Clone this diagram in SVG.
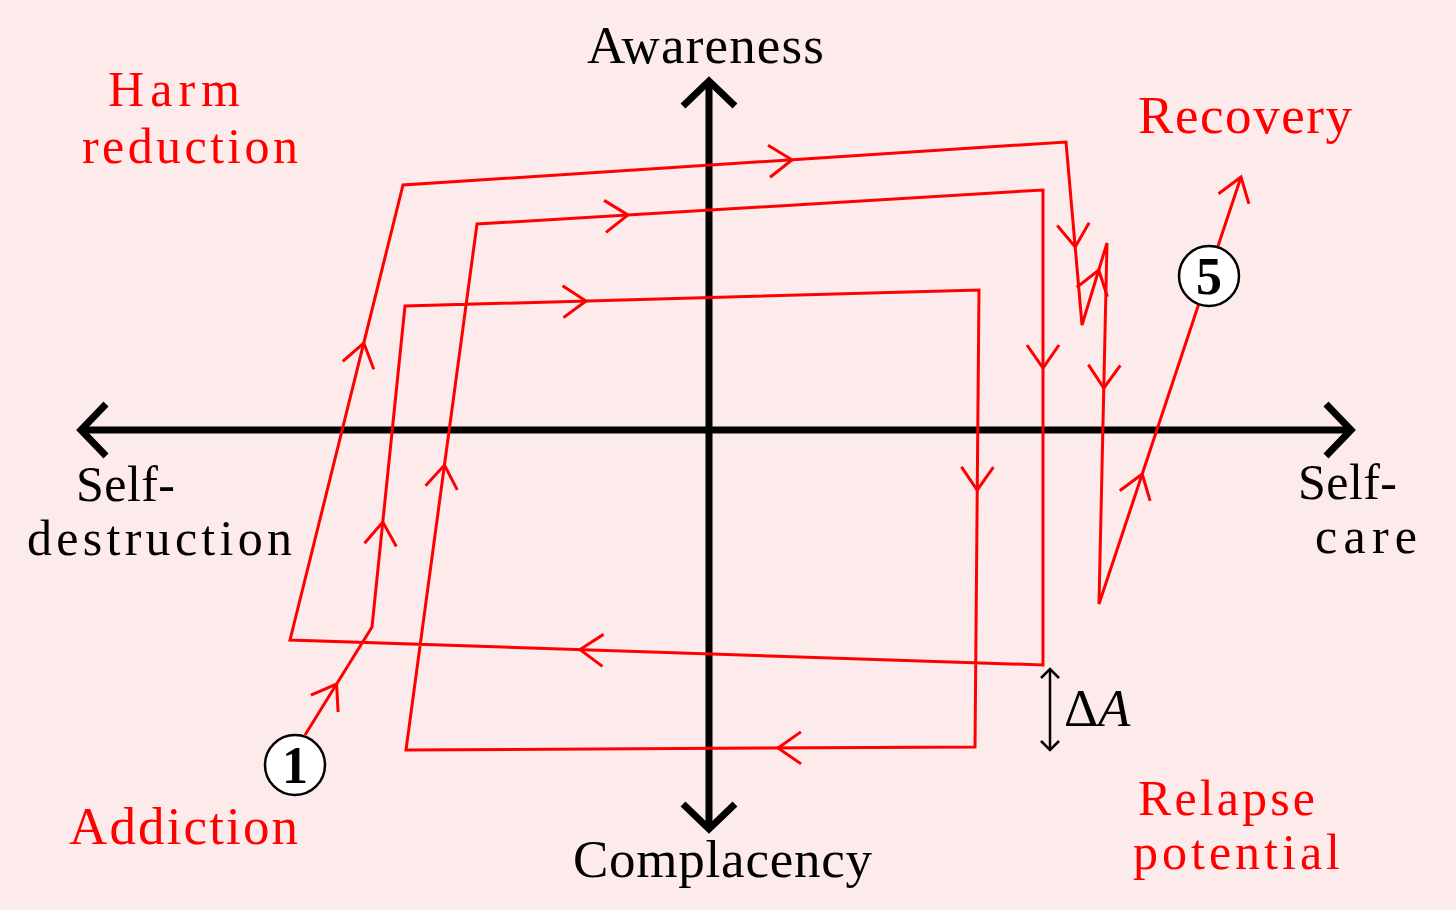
<svg xmlns="http://www.w3.org/2000/svg" xmlns:xlink="http://www.w3.org/1999/xlink" width="1456" height="910" viewBox="0 0 1456 910">
<style>
  .axis{stroke:#000;stroke-width:7;fill:none;stroke-linecap:butt;stroke-linejoin:miter}
  .cyc{stroke:#ff0000;stroke-width:3;fill:none;stroke-linejoin:miter}
  .lbl{font-family:"Liberation Serif","Times New Roman",serif;font-size:53px;fill:#000}
  .sm{font-size:50px}
  .red{fill:#ff0000}
  .num{font-family:"Liberation Serif","Times New Roman",serif;font-size:52px;font-weight:bold;fill:#000;text-anchor:middle}
  .circ{fill:#fff;stroke:#000;stroke-width:2.5}
</style>
<defs>
  <path id="ah" d="M-23,-16 L0,0 L-23,16" stroke="#ff0000" stroke-width="3" fill="none"/>
</defs>
<rect x="0" y="0" width="1456" height="910" fill="#fdebeb"/>

<g id="axes">
  <line class="axis" x1="84" y1="430" x2="1348" y2="430"/>
  <path class="axis" d="M106,404 L81,430 L106,456"/>
  <path class="axis" d="M1326,404 L1351,430 L1326,456"/>
  <line class="axis" x1="709" y1="84" x2="709" y2="826"/>
  <path class="axis" d="M683,106 L709,81 L735,106"/>
  <path class="axis" d="M683,804 L709,829 L735,804"/>
</g>

<g id="connectors">
  <polyline class="cyc" points="305,735 372,627 405,306 979,290 975,747 406,750 477,224 1043,190 1043,665 290,640 403,185 1066,142 1082,325 1107,243 1099,604 1241,177"/>
  <use xlink:href="#ah" transform="translate(336.6,684) rotate(-58.2)"/>
  <use xlink:href="#ah" transform="translate(382.8,522) rotate(-84.1)"/>
  <use xlink:href="#ah" transform="translate(586,301) rotate(-1.6)"/>
  <use xlink:href="#ah" transform="translate(977.2,490) rotate(90.5)"/>
  <use xlink:href="#ah" transform="translate(778,748) rotate(179.7)"/>
  <use xlink:href="#ah" transform="translate(444.5,465) rotate(-82.3)"/>
  <use xlink:href="#ah" transform="translate(628,215) rotate(-3.4)"/>
  <use xlink:href="#ah" transform="translate(1043,368) rotate(90)"/>
  <use xlink:href="#ah" transform="translate(580,649.6) rotate(181.9)"/>
  <use xlink:href="#ah" transform="translate(363.8,343) rotate(-76.05)"/>
  <use xlink:href="#ah" transform="translate(792,159.8) rotate(-3.7)"/>
  <use xlink:href="#ah" transform="translate(1075.2,247) rotate(85)"/>
  <use xlink:href="#ah" transform="translate(1098.8,270) rotate(-73)"/>
  <use xlink:href="#ah" transform="translate(1103.8,388) rotate(91.3)"/>
  <use xlink:href="#ah" transform="translate(1142.2,474) rotate(-71.6)"/>
  <use xlink:href="#ah" transform="translate(1241,177) rotate(-71.6)"/>
  <g id="deltaA-arrow" stroke="#000" stroke-width="2.5" fill="none">
    <line x1="1050" y1="669" x2="1050" y2="750"/>
    <path d="M1041,678 L1050,669 L1059,678"/>
    <path d="M1041,741 L1050,750 L1059,741"/>
  </g>
</g>

<g id="label-awareness"><text class="lbl" x="587" y="63" textLength="237">Awareness</text></g>
<g id="label-complacency"><text class="lbl" x="573" y="877" textLength="299">Complacency</text></g>
<g id="label-selfdestruction">
  <text class="lbl sm" x="76" y="501" textLength="99">Self-</text>
  <text class="lbl sm" x="27" y="555" textLength="265">destruction</text>
</g>
<g id="label-selfcare">
  <text class="lbl sm" x="1298" y="499" textLength="99">Self-</text>
  <text class="lbl sm" x="1315" y="553" textLength="102">care</text>
</g>
<g id="label-harm">
  <text class="lbl sm red" x="108" y="106" textLength="132">Harm</text>
  <text class="lbl sm red" x="82" y="163" textLength="216">reduction</text>
</g>
<g id="label-recovery"><text class="lbl red" x="1138" y="133" textLength="214">Recovery</text></g>
<g id="label-addiction"><text class="lbl red" x="69" y="844" textLength="229">Addiction</text></g>
<g id="label-relapse">
  <text class="lbl sm red" x="1138" y="815" textLength="177">Relapse</text>
  <text class="lbl sm red" x="1133" y="869" textLength="207">potential</text>
</g>
<g id="label-deltaA"><text class="lbl" x="1064" y="726">Δ<tspan font-style="italic">A</tspan></text></g>

<g id="node-1">
  <circle class="circ" cx="295" cy="765" r="30"/>
  <text class="num" x="295" y="783">1</text>
</g>
<g id="node-5">
  <circle class="circ" cx="1209" cy="276" r="30"/>
  <text class="num" x="1209" y="294">5</text>
</g>
</svg>
